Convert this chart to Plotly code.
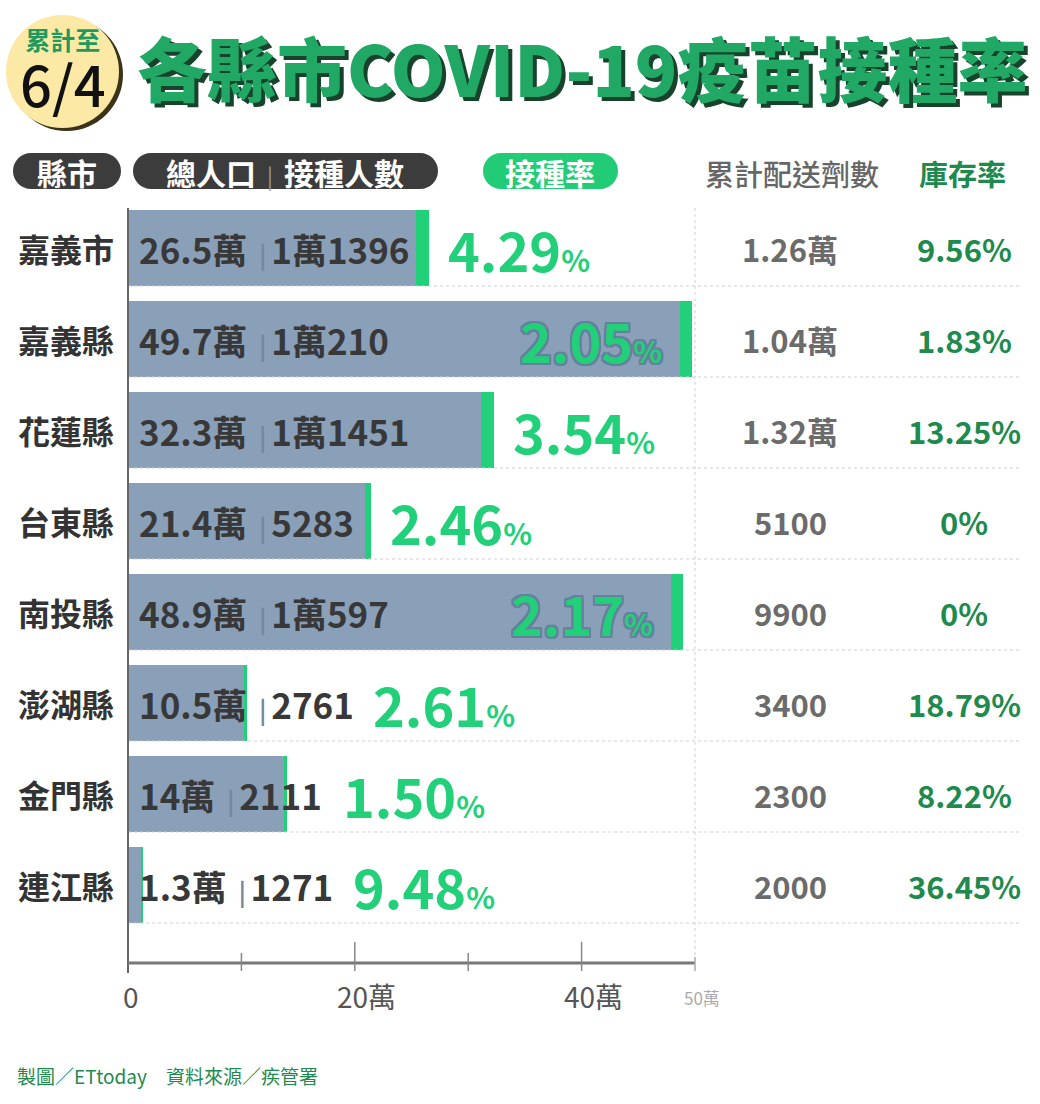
import plotly.graph_objects as go

# ---- data ----
counties = ['嘉義市', '嘉義縣', '花蓮縣', '台東縣', '南投縣', '澎湖縣', '金門縣', '連江縣']
population_wan = [26.5, 49.7, 32.3, 21.4, 48.9, 10.5, 14, 1.3]
vaccinated = [11396, 10210, 11451, 5283, 10597, 2761, 2111, 1271]
vacc_rate = [4.29, 2.05, 3.54, 2.46, 2.17, 2.61, 1.50, 9.48]
doses_delivered = ['1.26萬', '1.04萬', '1.32萬', '5100', '9900', '3400', '2300', '2000']
stock_rate = [9.56, 1.83, 13.25, 0, 0, 18.79, 8.22, 36.45]
major_ticks = [20, 40]
minor_ticks = [10, 30]

W, H = 1040, 1104
FONT = 'Noto Sans CJK TC'
BLUE = '#8aa0b9'
GREEN = '#22d07a'
DKGREEN = '#1e8a4e'

# pixel helpers (margins are zero, so paper == whole figure)
def px(p):
    return p / W

def py(p):
    return 1 - p / H

AX0, AX50 = 128, 695          # pixel of 0 and 50萬
PPU = (AX50 - AX0) / 50       # pixels per 萬
RIGHT = 1022
ROW0, ROWSTEP, BARH = 248, 91, 76
INNER = 35                    # font size of the text inside the bars


def xv(v):
    return px(AX0 + v * PPU)


def pill(x0, y0, x1, y1):
    r = (y1 - y0) / 2
    k = 0.5523 * r
    P = lambda x, y: f"{px(x)},{py(y)}"
    return (f"M{P(x0 + r, y0)} L{P(x1 - r, y0)} "
            f"C{P(x1 - r + k, y0)} {P(x1, y0 + r - k)} {P(x1, y0 + r)} "
            f"C{P(x1, y1 - r + k)} {P(x1 - r + k, y1)} {P(x1 - r, y1)} "
            f"L{P(x0 + r, y1)} "
            f"C{P(x0 + r - k, y1)} {P(x0, y1 - r + k)} {P(x0, y1 - r)} "
            f"C{P(x0, y0 + r - k)} {P(x0 + r - k, y0)} {P(x0 + r, y0)} Z")


def fmt_count(n):
    return f"{n // 10000}萬{n % 10000}" if n >= 10000 else str(n)


def text_w(s, f):
    # rough width of a label, used only to place the percentage after it
    w = 0
    for ch in s:
        if ch.isdigit():
            w += 0.58 * f
        elif ch == '.':
            w += 0.28 * f
        else:
            w += f
    return w


idx = list(range(len(counties)))
vacc_wan = [v / 10000 for v in vaccinated]
blue_len = [p - v for p, v in zip(population_wan, vacc_wan)]

fig = go.Figure()
fig.add_trace(go.Bar(y=idx, x=blue_len, orientation='h', marker=dict(color=BLUE, line_width=0),
                     width=BARH / ROWSTEP, hoverinfo='skip'))
fig.add_trace(go.Bar(y=idx, x=vacc_wan, orientation='h', marker=dict(color=GREEN, line_width=0),
                     width=BARH / ROWSTEP, hoverinfo='skip'))

shapes = []
ann = []

# badge
shapes.append(dict(type='circle', xref='paper', yref='paper', x0=px(10), x1=px(123), y0=py(18), y1=py(131),
                   fillcolor='#3a3318', line_width=0, layer='above'))
shapes.append(dict(type='circle', xref='paper', yref='paper', x0=px(6), x1=px(119), y0=py(15), y1=py(128),
                   fillcolor='#fce9a5', line_width=0, layer='above'))
ann.append(dict(text="<span style='font-size:25px;color:#1f9a5c'><b>累計至</b></span><br>"
                     "<span style='font-size:56px'>6/4</span>",
                x=px(63), y=py(72), font=dict(size=44, color='#111111', weight=500)))

# title
ann.append(dict(text='各縣市COVID-19疫苗接種率', x=px(135), y=py(66), xanchor='left',
                font=dict(size=70, color='#21a865', weight=900, shadow='4px 4px 0px #17432c')))

# header pills
shapes.append(dict(type='path', xref='paper', yref='paper', path=pill(13, 153, 121, 189),
                   fillcolor='#3c3c3c', line_width=0, layer='above'))
shapes.append(dict(type='path', xref='paper', yref='paper', path=pill(133, 153, 438, 189),
                   fillcolor='#3c3c3c', line_width=0, layer='above'))
shapes.append(dict(type='path', xref='paper', yref='paper', path=pill(483, 153, 618, 189),
                   fillcolor='#22cc77', line_width=0, layer='above'))
ann.append(dict(text='<b>縣市</b>', x=px(67), y=py(172), font=dict(size=30, color='white')))
ann.append(dict(text="<b>總人口</b><span style='color:#9a9a9a;font-size:22px'>\u2002|\u2002</span><b>接種人數</b>",
                x=px(285), y=py(172), font=dict(size=30, color='white')))
ann.append(dict(text='<b>接種率</b>', x=px(550), y=py(172), font=dict(size=30, color='white')))
ann.append(dict(text='累計配送劑數', x=px(792), y=py(173), font=dict(size=29, color='#666666', weight=500)))
ann.append(dict(text='<b>庫存率</b>', x=px(962), y=py(173), font=dict(size=29, color=DKGREEN)))

# separators and axis decorations
for i in idx:
    yb = ROW0 + i * ROWSTEP + BARH / 2
    shapes.append(dict(type='line', xref='paper', yref='paper', x0=px(AX0), x1=px(RIGHT), y0=py(yb), y1=py(yb),
                       line=dict(color='#cfcfcf', width=1, dash='dot')))
shapes.append(dict(type='line', xref='paper', yref='paper', x0=xv(50), x1=xv(50), y0=py(208), y1=py(957),
                   line=dict(color='#cfcfcf', width=1, dash='dot')))
shapes.append(dict(type='line', xref='paper', yref='paper', x0=px(AX0), x1=px(AX0), y0=py(208), y1=py(973),
                   line=dict(color='#666666', width=2), layer='above'))
shapes.append(dict(type='line', xref='paper', yref='paper', x0=px(AX0), x1=xv(50), y0=py(963), y1=py(963),
                   line=dict(color='#777777', width=3)))
for t in major_ticks:
    shapes.append(dict(type='line', xref='paper', yref='paper', x0=xv(t), x1=xv(t), y0=py(942), y1=py(971),
                       line=dict(color='#888888', width=1.5)))
for t in minor_ticks:
    shapes.append(dict(type='line', xref='paper', yref='paper', x0=xv(t), x1=xv(t), y0=py(953), y1=py(971),
                       line=dict(color='#888888', width=1.5)))
shapes.append(dict(type='line', xref='paper', yref='paper', x0=xv(50), x1=xv(50), y0=py(957), y1=py(971),
                   line=dict(color='#aaaaaa', width=1.5)))

ann.append(dict(text='0', x=xv(0), xshift=3, y=py(996), font=dict(size=28, color='#555555')))
for t in major_ticks:
    ann.append(dict(text=f'{t}萬', x=xv(t), xshift=12, y=py(996), font=dict(size=28, color='#555555')))
ann.append(dict(text='50萬', x=xv(50), xshift=7, y=py(997), font=dict(size=17, color='#aaaaaa')))

# rows
outline = ', '.join(f'{dx}px {dy}px #66809e' for dx, dy in
                    [(2, 0), (-2, 0), (0, 2), (0, -2), (2, 2), (-2, -2), (2, -2), (-2, 2)])
for i, name in enumerate(counties):
    yc = py(ROW0 + i * ROWSTEP)
    ann.append(dict(text=f'<b>{name}</b>', x=px(116), y=yc, xanchor='right', font=dict(size=32, color='#333333')))
    pop_txt = f'{population_wan[i]:g}萬'
    cnt_txt = fmt_count(vaccinated[i])
    ann.append(dict(text=f"{pop_txt}<span style='color:#76879a;font-size:24px'>\u2002|\u2009</span>{cnt_txt}",
                    x=px(AX0 + 9), y=yc, xanchor='left',
                    font=dict(size=INNER, color='#383838', weight=600)))
    text_end = AX0 + 9 + text_w(pop_txt, INNER) + 30 + text_w(cnt_txt, INNER)
    bar_end = AX0 + population_wan[i] * PPU
    pct = f"{vacc_rate[i]:.2f}<span style='font-size:30px'>%</span>"
    if bar_end - text_end > 200:
        ann.append(dict(text=pct, x=px(AX0 + blue_len[i] * PPU - 16), y=yc, xanchor='right',
                        font=dict(size=54, color=GREEN, weight=700, shadow=outline)))
    else:
        ann.append(dict(text=pct, x=px(max(bar_end, text_end) + 17), y=yc, xanchor='left',
                        font=dict(size=54, color=GREEN, weight=700)))
    ann.append(dict(text=f'<b>{doses_delivered[i]}</b>', x=px(790), y=yc, font=dict(size=31, color='#6b6b6b')))
    sr = f'{stock_rate[i]:.2f}%' if stock_rate[i] else '0%'
    ann.append(dict(text=f'<b>{sr}</b>', x=px(964), y=yc, font=dict(size=31, color=DKGREEN)))

# footer
ann.append(dict(text='製圖／ETtoday\u2003資料來源／疾管署', x=px(15), y=py(1075), xanchor='left',
                font=dict(size=19, color=DKGREEN)))

for a in ann:
    a.setdefault('xref', 'paper')
    a.setdefault('yref', 'paper')
    a.setdefault('showarrow', False)
    a.setdefault('xanchor', 'center')
    a.setdefault('yanchor', 'middle')

fig.update_layout(
    width=W, height=H,
    margin=dict(l=0, r=0, t=0, b=0),
    paper_bgcolor='white', plot_bgcolor='white',
    barmode='stack', showlegend=False,
    font=dict(family=FONT),
    xaxis=dict(domain=[px(AX0), px(RIGHT)], range=[0, 50 * (RIGHT - AX0) / (AX50 - AX0)],
               visible=False, fixedrange=True),
    yaxis=dict(domain=[py(975), py(200)],
               range=[(975 - ROW0) / ROWSTEP, (200 - ROW0) / ROWSTEP],
               visible=False, fixedrange=True),
    shapes=shapes, annotations=ann,
)

fig.write_html('out.html', config={'displayModeBar': False},
               post_script="document.body.style.margin='0';")
